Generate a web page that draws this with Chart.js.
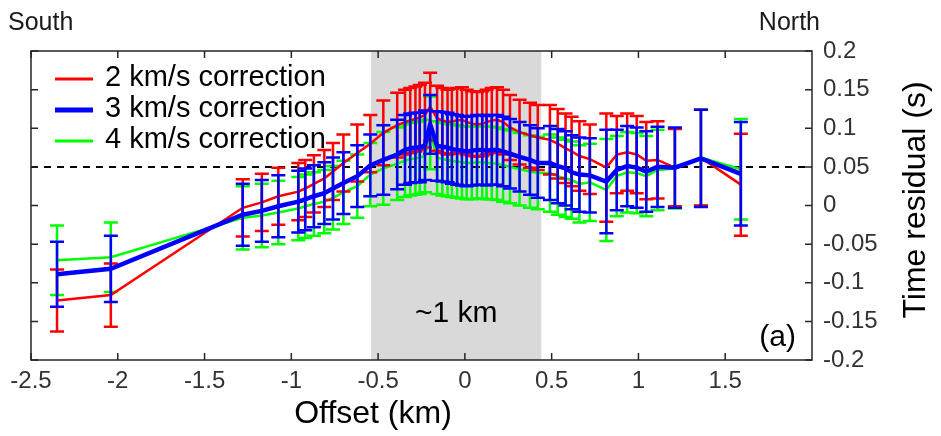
<!DOCTYPE html>
<html>
<head>
<meta charset="utf-8">
<script src="https://cdn.jsdelivr.net/npm/chart.js@4.4.1/dist/chart.umd.min.js"></script>
<style>
  html, body { margin: 0; padding: 0; background: #fff; }
  canvas { display: block; }
</style>
</head>
<body>
<canvas id="chart" width="941" height="436"></canvas>
<script>
// Offset of each station (km), south negative
const offsets = [-2.35, -2.04, -1.28, -1.17, -1.075, -0.96, -0.92, -0.87, -0.81, -0.76,
  -0.70, -0.62, -0.545, -0.47, -0.39, -0.345, -0.315, -0.285, -0.26, -0.23,
  -0.20, -0.16, -0.13, -0.10, -0.075, -0.045, -0.017, 0.01, 0.04, 0.07,
  0.10, 0.125, 0.155, 0.185, 0.22, 0.26, 0.315, 0.375, 0.42, 0.49,
  0.535, 0.58, 0.615, 0.66, 0.72, 0.815, 0.875, 0.935, 0.99, 1.045,
  1.11, 1.21, 1.36, 1.59];

// Time residuals (s) and error half-widths for each correction velocity
const res2 = [-0.123, -0.116, -0.003, 0.004, 0.012, 0.018, 0.022, 0.028, 0.035, 0.044,
  0.055, 0.068, 0.080, 0.094, 0.104, 0.108, 0.110, 0.112, 0.114, 0.117,
  0.128, 0.113, 0.110, 0.108, 0.109, 0.110, 0.111, 0.108, 0.106, 0.105,
  0.106, 0.108, 0.110, 0.111, 0.108, 0.101, 0.095, 0.091, 0.088, 0.085,
  0.080, 0.074, 0.070, 0.064, 0.060, 0.049, 0.066, 0.069, 0.066, 0.058,
  0.059, 0.049, 0.062, 0.027];
const err2 = [0.040, 0.041, 0.037, 0.037, 0.037, 0.037, 0.037, 0.037, 0.037, 0.037,
  0.037, 0.037, 0.037, 0.042, 0.042, 0.042, 0.042, 0.042, 0.042, 0.042,
  0.044, 0.042, 0.042, 0.042, 0.042, 0.042, 0.042, 0.042, 0.042, 0.042,
  0.042, 0.042, 0.042, 0.042, 0.042, 0.042, 0.042, 0.042, 0.042, 0.045,
  0.045, 0.045, 0.045, 0.045, 0.045, 0.070, 0.050, 0.050, 0.050, 0.050,
  0.050, 0.050, 0.062, 0.066];

const res3 = [-0.089, -0.082, -0.012, -0.007, -0.001, 0.005, 0.008, 0.012, 0.016, 0.022,
  0.029, 0.038, 0.052, 0.059, 0.066, 0.072, 0.074, 0.075, 0.075, 0.078,
  0.105, 0.077, 0.076, 0.075, 0.073, 0.072, 0.071, 0.070, 0.071, 0.072,
  0.072, 0.071, 0.072, 0.072, 0.070, 0.067, 0.063, 0.059, 0.055, 0.055,
  0.051, 0.048, 0.043, 0.040, 0.039, 0.031, 0.046, 0.051, 0.049, 0.044,
  0.050, 0.049, 0.061, 0.041];
const err3 = [0.042, 0.043, 0.040, 0.040, 0.040, 0.040, 0.040, 0.040, 0.040, 0.040,
  0.040, 0.040, 0.040, 0.045, 0.045, 0.045, 0.045, 0.045, 0.045, 0.045,
  0.038, 0.045, 0.045, 0.045, 0.045, 0.045, 0.045, 0.045, 0.045, 0.045,
  0.045, 0.045, 0.045, 0.045, 0.045, 0.045, 0.045, 0.045, 0.045, 0.048,
  0.048, 0.048, 0.048, 0.048, 0.048, 0.067, 0.052, 0.052, 0.052, 0.052,
  0.052, 0.052, 0.063, 0.067];

const res4 = [-0.071, -0.067, -0.016, -0.013, -0.009, -0.004, -0.001, 0.002, 0.005, 0.010,
  0.017, 0.025, 0.040, 0.048, 0.054, 0.058, 0.060, 0.061, 0.062, 0.064,
  0.094, 0.062, 0.060, 0.059, 0.058, 0.057, 0.056, 0.055, 0.055, 0.056,
  0.056, 0.055, 0.055, 0.054, 0.052, 0.050, 0.047, 0.044, 0.042, 0.042,
  0.038, 0.035, 0.033, 0.028, 0.030, 0.020, 0.038, 0.043, 0.042, 0.038,
  0.046, 0.048, 0.062, 0.047];
const err4 = [0.045, 0.045, 0.041, 0.041, 0.041, 0.041, 0.041, 0.041, 0.041, 0.041,
  0.041, 0.041, 0.041, 0.047, 0.047, 0.047, 0.047, 0.047, 0.047, 0.047,
  0.047, 0.047, 0.047, 0.047, 0.047, 0.047, 0.047, 0.047, 0.047, 0.047,
  0.047, 0.047, 0.047, 0.047, 0.047, 0.047, 0.047, 0.047, 0.047, 0.050,
  0.050, 0.050, 0.050, 0.050, 0.050, 0.066, 0.052, 0.052, 0.052, 0.052,
  0.052, 0.052, 0.062, 0.065];

const xTicks = [-2.5, -2, -1.5, -1, -0.5, 0, 0.5, 1, 1.5];
const xTickLabels = ['-2.5', '-2', '-1.5', '-1', '-0.5', '0', '0.5', '1', '1.5'];
const yTicks = [-0.2, -0.15, -0.1, -0.05, 0, 0.05, 0.1, 0.15, 0.2];
const yTickLabels = ['-0.2', '-0.15', '-0.1', '-0.05', '0', '0.05', '0.1', '0.15', '0.2'];

const band = [-0.54, 0.44];   // shaded ~1 km zone
const refLevel = 0.05;        // dashed reference line

const FONT = '"Liberation Sans", Arial, Helvetica, sans-serif';
Chart.defaults.font.family = FONT;

const toPoints = (ys) => offsets.map((x, i) => ({ x: x, y: ys[i] }));

// grey band + dashed reference line, under the data
const backdrop = {
  id: 'backdrop',
  beforeDatasetsDraw(chart) {
    const { ctx, chartArea: a, scales: { x, y } } = chart;
    ctx.save();
    const x0 = x.getPixelForValue(band[0]);
    const x1 = x.getPixelForValue(band[1]);
    ctx.fillStyle = '#d9d9d9';
    ctx.fillRect(x0, a.top, x1 - x0, a.bottom - a.top);
    const yr = y.getPixelForValue(refLevel);
    ctx.strokeStyle = '#000';
    ctx.lineWidth = 2;
    ctx.setLineDash([7, 6]);
    ctx.beginPath();
    ctx.moveTo(a.left, yr);
    ctx.lineTo(a.right, yr);
    ctx.stroke();
    ctx.restore();
  }
};

// vertical error bars with caps, drawn just before each dataset's line
const errorBars = {
  id: 'errorBars',
  beforeDatasetDraw(chart, args) {
    const ds = chart.data.datasets[args.index];
    if (!ds.errors) return;
    const { ctx, scales: { x, y } } = chart;
    const cap = 7;
    ctx.save();
    ctx.strokeStyle = ds.borderColor;
    ctx.lineWidth = ds.errorWidth;
    ds.data.forEach((p, i) => {
      const px = x.getPixelForValue(p.x);
      const top = y.getPixelForValue(p.y + ds.errors[i]);
      const bot = y.getPixelForValue(p.y - ds.errors[i]);
      ctx.beginPath();
      ctx.moveTo(px, top); ctx.lineTo(px, bot);
      ctx.moveTo(px - cap, top); ctx.lineTo(px + cap, top);
      ctx.moveTo(px - cap, bot); ctx.lineTo(px + cap, bot);
      ctx.stroke();
    });
    ctx.restore();
  }
};

// box, inward ticks, legend and annotations
const frame = {
  id: 'frame',
  afterDraw(chart) {
    const { ctx, chartArea: a, scales: { x, y } } = chart;
    ctx.save();
    ctx.strokeStyle = '#262626';
    ctx.lineWidth = 1.5;
    ctx.strokeRect(a.left, a.top, a.right - a.left, a.bottom - a.top);
    const tl = 7;
    ctx.beginPath();
    xTicks.forEach(v => {
      const px = x.getPixelForValue(v);
      ctx.moveTo(px, a.bottom); ctx.lineTo(px, a.bottom - tl);
      ctx.moveTo(px, a.top); ctx.lineTo(px, a.top + tl);
    });
    yTicks.forEach(v => {
      const py = y.getPixelForValue(v);
      ctx.moveTo(a.left, py); ctx.lineTo(a.left + tl, py);
      ctx.moveTo(a.right, py); ctx.lineTo(a.right - tl, py);
    });
    ctx.stroke();

    // legend
    const items = [
      { text: '2 km/s correction', color: '#ff0000', width: 3 },
      { text: '3 km/s correction', color: '#0000ff', width: 5 },
      { text: '4 km/s correction', color: '#00ff00', width: 3 }
    ];
    ctx.font = '29px ' + FONT;
    ctx.textBaseline = 'middle';
    ctx.textAlign = 'left';
    items.forEach((it, i) => {
      const ly = 79 + i * 31;
      ctx.strokeStyle = it.color;
      ctx.lineWidth = it.width;
      ctx.beginPath();
      ctx.moveTo(55, ly); ctx.lineTo(93, ly);
      ctx.stroke();
      ctx.fillStyle = '#000';
      ctx.fillText(it.text, 105, ly - 1);
    });

    ctx.textBaseline = 'alphabetic';
    ctx.fillStyle = '#1a1a1a';
    ctx.font = '25px ' + FONT;
    ctx.fillText('South', 8, 30);
    ctx.textAlign = 'right';
    ctx.fillText('North', 820, 30);

    ctx.fillStyle = '#000';
    ctx.font = '30px ' + FONT;
    ctx.textAlign = 'center';
    ctx.fillText('~1 km', x.getPixelForValue((band[0] + band[1]) / 2), 322);
    ctx.textAlign = 'right';
    ctx.fillText('(a)', 796, 346);

    ctx.font = '32px ' + FONT;
    ctx.textAlign = 'center';
    ctx.fillText('Offset (km)', 373, 423);

    ctx.translate(925, 200);
    ctx.rotate(-Math.PI / 2);
    ctx.fillText('Time residual (s)', 0, 0);
    ctx.restore();
  }
};

new Chart(document.getElementById('chart'), {
  type: 'scatter',
  data: {
    datasets: [
      { label: '3 km/s correction', data: toPoints(res3), errors: err3,
        borderColor: '#0000ff', borderWidth: 4.5, errorWidth: 2.5, order: 0 },
      { label: '2 km/s correction', data: toPoints(res2), errors: err2,
        borderColor: '#ff0000', borderWidth: 2.5, errorWidth: 2.5, order: 1 },
      { label: '4 km/s correction', data: toPoints(res4), errors: err4,
        borderColor: '#00ff00', borderWidth: 2.5, errorWidth: 2.5, order: 2 }
    ]
  },
  options: {
    responsive: false,
    animation: false,
    devicePixelRatio: 1,
    layout: { padding: { left: 31, top: 51, right: 0, bottom: 0 } },
    plugins: { legend: { display: false }, tooltip: { enabled: false } },
    elements: { point: { radius: 0, hoverRadius: 0 }, line: { tension: 0 } },
    datasets: { scatter: { showLine: true } },
    scales: {
      x: {
        type: 'linear', min: -2.5, max: 2,
        grid: { display: false, drawTicks: false },
        border: { display: false },
        afterBuildTicks: s => { s.ticks = xTicks.map(v => ({ value: v })); },
        afterFit: s => { s.height = 76; },
        ticks: {
          autoSkip: false, maxRotation: 0, padding: 7,
          color: '#333', font: { size: 24 },
          callback: (v, i) => xTickLabels[i]
        }
      },
      y: {
        type: 'linear', position: 'right', min: -0.2, max: 0.2,
        grid: { display: false, drawTicks: false },
        border: { display: false },
        afterBuildTicks: s => { s.ticks = yTicks.map(v => ({ value: v })); },
        afterFit: s => { s.width = 129; },
        ticks: {
          autoSkip: false, padding: 11,
          color: '#333', font: { size: 24 },
          callback: (v, i) => yTickLabels[i]
        }
      }
    }
  },
  plugins: [backdrop, errorBars, frame]
});
</script>
</body>
</html>
